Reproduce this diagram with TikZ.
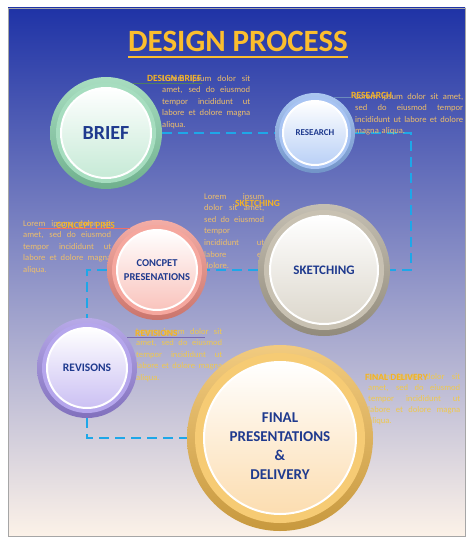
\documentclass[tikz,border=0pt]{standalone}
\usepackage{fontspec}
\setmainfont{Carlito}
\usetikzlibrary{backgrounds}

\definecolor{paneltop}{HTML}{1F33A6}
\definecolor{panelmid}{HTML}{7F8ACF}
\definecolor{panelbot}{HTML}{FCF2E8}
\definecolor{titlegold}{HTML}{FBBE2E}
\definecolor{headgold}{HTML}{F4B324}
\definecolor{loremgold}{HTML}{EDBE6A}
\definecolor{paleyellow}{HTML}{EFC84E}
\definecolor{navy}{HTML}{1F3A8E}
\definecolor{linkblue}{HTML}{1EA7E8}
% balls: outer ring, band, core
\definecolor{briefout}{HTML}{83CFA6}\definecolor{briefband}{HTML}{A6DDBF}\definecolor{briefcore}{HTML}{C6EAD6}
\definecolor{resout}{HTML}{86AEEB}\definecolor{resband}{HTML}{A8C4F3}\definecolor{rescore}{HTML}{B9D0F6}
\definecolor{presout}{HTML}{EE8A80}\definecolor{presband}{HTML}{F5A79E}\definecolor{prescore}{HTML}{F9C3BC}
\definecolor{sketchout}{HTML}{ABA391}\definecolor{sketchband}{HTML}{C8C1B2}\definecolor{sketchcore}{HTML}{DCD7CC}
\definecolor{revout}{HTML}{9884DE}\definecolor{revband}{HTML}{B5A6EC}\definecolor{revcore}{HTML}{CBC0F3}
\definecolor{finout}{HTML}{EBB449}\definecolor{finband}{HTML}{F6CB74}\definecolor{fincore}{HTML}{FCDDB0}

% one justified line
\newcommand{\jl}[1]{\makebox[\hsize][s]{\spaceskip=0.22em plus 4em\xspaceskip=0.3em plus 4em #1}\\}

\begin{document}
\begin{tikzpicture}[x=1pt, y=-1pt,
  rim/.style={circle, inner sep=0pt, top color=#1!70!white, bottom color=#1!85!black},
  band/.style={circle, inner sep=0pt, fill=#1},
  core/.style={circle, inner sep=0pt, draw=white, line width=2pt, top color=white, bottom color=#1, text=navy, align=center},
  link/.style={draw=linkblue, line width=2.4pt, dash pattern=on 10pt off 6pt},
  callout/.style={line width=0.8pt},
  lorem/.style={anchor=north west, inner sep=0pt, text=loremgold, align=left, font=\fontsize{8.6}{11.6}\selectfont},
  head/.style={anchor=base west, inner sep=0pt, text=headgold, font=\bfseries\fontsize{9.5}{11}\selectfont}]
	\useasboundingbox (0,0) rectangle (474,545);
	% title
	\node[anchor=base, inner sep=0pt, text=titlegold, font=\bfseries\fontsize{31}{36}\selectfont] (title) at (238,52) {DESIGN PROCESS};
	\draw[titlegold, line width=2pt] ([yshift=-5pt]title.base west) -- ([yshift=-5pt]title.base east);
	% text blocks
	\node[lorem, text width=88] (brief-text) at (162,75) {\jl{Lorem ipsum dolor sit}\jl{amet, sed do eiusmod}\jl{tempor incididunt ut}\jl{labore et dolore magna}aliqua.};
	\node[lorem, text width=108] (research-text) at (355,93) {\jl{Lorem ipsum dolor sit amet,}\jl{sed do eiusmod tempor}\jl{incididunt ut labore et dolore}magna aliqua.};
	\node[lorem, text width=88] (pres-text) at (23,220) {\jl{Lorem ipsum dolor sit}\jl{amet, sed do eiusmod}\jl{tempor incididunt ut}\jl{labore et dolore magna}aliqua.};
	\node[lorem, text width=60] (sketch-text) at (204,193) {\jl{Lorem ipsum}\jl{dolor sit amet,}\jl{sed do eiusmod}tempor\\\jl{incididunt ut}\jl{labore et}dolore.};
	\node[lorem, text=paleyellow, text width=86] (rev-text) at (136,328) {\jl{Lorem ipsum dolor sit}\jl{amet, sed do eiusmod}\jl{tempor incididunt ut}\jl{labore et dolore magna}aliqua.};
	\node[lorem, text=paleyellow, text width=92, font=\fontsize{8.6}{11}\selectfont] (final-text) at (368,373) {\jl{Lorem ipsum dolor sit}\jl{amet, sed do eiusmod}\jl{tempor incididunt ut}\jl{labore et dolore magna}aliqua.};
	% balls
	\node[rim=briefout, minimum size=112] (brief) at (106,133) {};
	\node[band=briefband, minimum size=100] (brief-band) at (brief) {};
	\node[core=briefcore, minimum size=90, font=\bfseries\fontsize{20}{24}\selectfont] (brief-core) at (brief) {BRIEF};
	\node[rim=resout, minimum size=80] (research) at (315,133) {};
	\node[band=resband, minimum size=72] (research-band) at (research) {};
	\node[core=rescore, minimum size=64, font=\bfseries\fontsize{9}{11}\selectfont] (research-core) at (research) {RESEARCH};
	\node[rim=presout, minimum size=100] (pres) at (157,270) {};
	\node[band=presband, minimum size=90] (pres-band) at (pres) {};
	\node[core=prescore, minimum size=80, font=\bfseries\fontsize{10.5}{14}\selectfont] (pres-core) at (pres) {CONCPET\\PRESENATIONS};
	\node[rim=sketchout, minimum size=132] (sketch) at (324,270) {};
	\node[band=sketchband, minimum size=120] (sketch-band) at (sketch) {};
	\node[core=sketchcore, minimum size=108, font=\bfseries\fontsize{13}{16}\selectfont] (sketch-core) at (sketch) {SKETCHING};
	\node[rim=revout, minimum size=100] (rev) at (87,368) {};
	\node[band=revband, minimum size=90] (rev-band) at (rev) {};
	\node[core=revcore, minimum size=80, font=\bfseries\fontsize{11.5}{14}\selectfont] (rev-core) at (rev) {REVISONS};
	\node[rim=finout, minimum size=186] (final) at (280,438) {};
	\node[band=finband, minimum size=170] (final-band) at (final) {};
	\node[core=fincore, minimum size=152] (final-core) at (final) {};
	\node[text=navy, align=center, font=\bfseries\fontsize{15}{19}\selectfont] (final-label) at ([yshift=-8pt]final) {FINAL\\PRESENTATIONS\\\&\\DELIVERY};
	% headings and their lines
	\node[head] (brief-head) at (147,82) {DESIGN BRIEF};
	\node[head] (research-head) at (351,99) {RESEARCH};
	\node[head] (pres-head) at (56,228) {CONCEPT PRES};
	\node[head] (sketch-head) at (235,207) {SKETCHING};
	\node[head] (rev-head) at (135,336) {REVISIONS};
	\node[head] (final-head) at (365,380) {FINAL DELIVERY};
	\coordinate (pres-tip) at (38,228);
	\coordinate (rev-tip) at (205,338);
	\draw[callout, color=briefout!60!black] (brief.61) -- (brief.61 -| brief-head.east);
	\draw[callout, color=resout!80!black] (research.62) -- (research.62 -| research-head.west);
	\draw[callout, color=presout!80!red] (pres.123) -- (pres.123 -| pres-tip);
	\draw[callout, color=revout!80!black] (rev.37) -- (rev.37 -| rev-tip);
	% panel and dashed links
	\begin{pgfonlayer}{background}
		\shade[top color=paneltop, middle color=panelmid, bottom color=panelbot] (8,8) rectangle (465,536);
		\draw[gray!70] (8,8) rectangle (465,536);
		\coordinate (bend) at (411,270);
		\draw[link] (brief.east) -- (research.west);
		\draw[link] (research.east) -| (bend) -- (sketch.east);
		\draw[link] (sketch.west) -- (pres.east);
		\draw[link] (pres.west) -| (rev.north);
		\draw[link] (rev.south) |- (final.west);
	\end{pgfonlayer}
\end{tikzpicture}
\end{document}
